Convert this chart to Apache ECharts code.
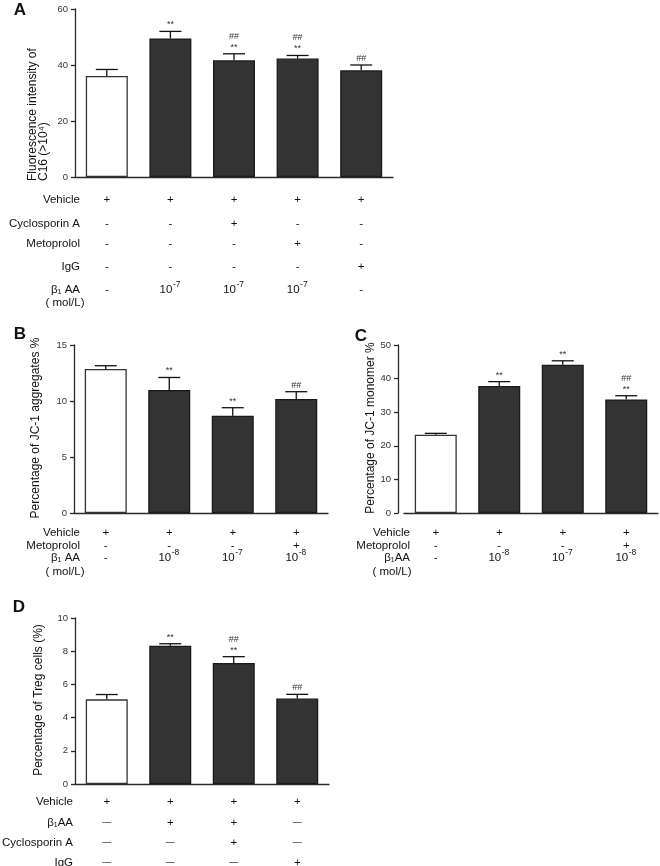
<!DOCTYPE html>
<html>
<head>
<meta charset="utf-8">
<script src="https://cdn.jsdelivr.net/npm/echarts@6/dist/echarts.min.js"></script>
<style>html,body{margin:0;padding:0;background:#fff}#c{width:660px;height:866px}</style>
</head>
<body>
<div id="c"></div>
<script>
// ---------- DATA ----------
const catsA = ['G1','G2','G3','G4','G5'];
const meanA = [36.1, 49.5, 41.7, 42.3, 38.1];
const errA  = [2.3, 2.5, 2.3, 1.1, 1.9];
const sigA  = ['', '**', '##\n**', '##\n**', '##'];
const tabA_vehicle = ['+','+','+','+','+'];
const tabA_cyclo   = ['-','-','+','-','-'];
const tabA_meto    = ['-','-','-','+','-'];
const tabA_igg     = ['-','-','-','-','+'];
const tabA_b1aa    = ['-','10^-7','10^-7','10^-7','-'];

const catsB = ['G1','G2','G3','G4'];
const meanB = [12.86, 10.98, 8.69, 10.18];
const errB  = [0.29, 1.12, 0.71, 0.65];
const sigB  = ['', '**', '**', '##'];

const catsC = ['G1','G2','G3','G4'];
const meanC = [23.3, 37.8, 44.1, 33.8];
const errC  = [0.4, 1.3, 1.2, 1.1];
const sigC  = ['', '**', '**', '##\n**'];

const tabBC_vehicle = ['+','+','+','+'];
const tabBC_meto    = ['-','-','-','+'];
const tabBC_b1aa    = ['-','10^-8','10^-7','10^-8'];

const catsD = ['G1','G2','G3','G4'];
const meanD = [5.1, 8.33, 7.29, 5.15];
const errD  = [0.29, 0.12, 0.38, 0.25];
const sigD  = ['', '**', '##\n**', '##'];
const tabD_vehicle = ['+','+','+','+'];
const tabD_b1aa    = ['—','+','+','—'];
const tabD_cyclo   = ['—','—','+','—'];
const tabD_igg     = ['—','—','—','+'];

// ---------- STYLE ----------
const FONT = 'Arial, "Liberation Sans", sans-serif';
const AX = '#2a2a2a';
const TF = 11.5; // table font size

const panels = [
  {cats: catsA, mean: meanA, err: errA, sig: sigA, grid:{left:75, top:9, width:318, height:168}, yMax:60, yInt:20, yOffset:0,
   rows:[tabA_vehicle, tabA_cyclo, tabA_meto, tabA_igg, tabA_b1aa], rowOff:[23,47,67,90,113], dashFont:TF},
  {cats: catsB, mean: meanB, err: errB, sig: sigB, grid:{left:74, top:345, width:254, height:168}, yMax:15, yInt:5, yOffset:0,
   rows:[tabBC_vehicle, tabBC_meto, tabBC_b1aa], rowOff:[20,33,45], dashFont:TF},
  {cats: catsC, mean: meanC, err: errC, sig: sigC, grid:{left:404, top:345, width:254, height:168}, yMax:50, yInt:10, yOffset:6,
   rows:[tabBC_vehicle, tabBC_meto, tabBC_b1aa], rowOff:[20,33,45], dashFont:TF},
  {cats: catsD, mean: meanD, err: errD, sig: sigD, grid:{left:75, top:618, width:254, height:166}, yMax:10, yInt:2, yOffset:0,
   rows:[tabD_vehicle, tabD_b1aa, tabD_cyclo, tabD_igg], rowOff:[18,39,59,79], dashFont:9}
];

const grids = [], xAxes = [], yAxes = [], series = [];
panels.forEach((p, k) => {
  grids.push(Object.assign({containLabel:false}, p.grid));
  xAxes.push({type:'category', gridIndex:k, data:p.cats,
    axisLine:{lineStyle:{color:AX, width:1.3}},
    axisTick:{alignWithLabel:true, length:4, lineStyle:{color:AX, width:1.3}},
    axisLabel:{show:false}, splitLine:{show:false}});
  yAxes.push({type:'value', gridIndex:k, min:0, max:p.yMax, interval:p.yInt, offset:p.yOffset,
    axisLine:{show:true, lineStyle:{color:AX, width:1.3}},
    axisTick:{show:true, length:4, lineStyle:{color:AX, width:1.3}},
    axisLabel:{fontFamily:FONT, fontSize:9.5, color:'#333', margin:7},
    splitLine:{show:false}});
  series.push({type:'bar', xAxisIndex:k, yAxisIndex:k, barWidth:42,
    data:p.mean.map((v,i)=>({value:v, itemStyle: i===0
      ? {color:'#ffffff', borderColor:'#333', borderWidth:1.3}
      : {color:'#333333', borderColor:'#1a1a1a', borderWidth:1.3}})),
    z:2});
  // error bars + significance marks
  series.push({type:'custom', xAxisIndex:k, yAxisIndex:k, z:3, clip:false,
    data:p.mean.map((v,i)=>[i, v, v + p.err[i]]),
    renderItem:(params, api)=>{
      const i = api.value(0), m = api.value(1), u = api.value(2);
      const p0 = api.coord([i, m]), p1 = api.coord([i, u]);
      const st = {stroke:'#111', lineWidth:1.3};
      return {type:'group', children:[
        {type:'line', shape:{x1:p0[0], y1:p0[1], x2:p1[0], y2:p1[1]}, style:st},
        {type:'line', shape:{x1:p1[0]-11, y1:p1[1], x2:p1[0]+11, y2:p1[1]}, style:st},
        {type:'text', x:p1[0], y:p1[1]-1, style:{text:p.sig[params.dataIndex], align:'center', verticalAlign:'bottom',
          font:'9px ' + FONT, lineHeight:11, fill:'#333'}}
      ]};
    }});
  // table under each panel
  series.push({type:'custom', xAxisIndex:k, yAxisIndex:k, z:3, clip:false,
    data:p.cats.map((c,i)=>[i, 0]),
    renderItem:(params, api)=>{
      const i = api.value(0);
      const base = api.coord([i, 0]);
      const ch = [];
      p.rows.forEach((row, r) => {
        const t = row[params.dataIndex];
        const y = base[1] + p.rowOff[r];
        if (t.indexOf('10^') === 0) {
          ch.push({type:'text', x:base[0]+2, y:y, style:{text:'10', align:'right', verticalAlign:'middle', font:TF+'px '+FONT, fill:'#111'}});
          ch.push({type:'text', x:base[0]+2.5, y:y-5, style:{text:t.slice(3), align:'left', verticalAlign:'middle', font:'8.5px '+FONT, fill:'#111'}});
        } else {
          const f = (t === '—') ? p.dashFont : TF;
          ch.push({type:'text', x:base[0], y:y, style:{text:t, align:'center', verticalAlign:'middle', font:f+'px '+FONT, fill:'#111'}});
        }
      });
      return {type:'group', children:ch};
    }});
});

function txt(x, y, text, opt) {
  return Object.assign({type:'text', x:x, y:y, silent:true,
    style:Object.assign({text:text, font:TF + 'px ' + FONT, fill:'#111', align:'right', verticalAlign:'middle'}, opt && opt.style)},
    opt && opt.el);
}
const TT = '12px ' + FONT;
const graphic = [
  // panel letters
  txt(20, 10, 'A', {style:{font:'bold 17px ' + FONT, align:'center'}}),
  txt(20, 334, 'B', {style:{font:'bold 17px ' + FONT, align:'center'}}),
  txt(361, 336, 'C', {style:{font:'bold 17px ' + FONT, align:'center'}}),
  txt(19, 607, 'D', {style:{font:'bold 17px ' + FONT, align:'center'}}),
  // axis titles
  txt(38, 181, 'Fluorescence intensity of\nC16 (>10⁴)', {style:{align:'left', lineHeight:11, font:TT}, el:{rotation:Math.PI/2}}),
  txt(36, 428, 'Percentage of JC-1 aggregates %', {style:{align:'center', font:TT}, el:{rotation:Math.PI/2}}),
  txt(371, 428, 'Percentage of JC-1 monomer %', {style:{align:'center', font:TT}, el:{rotation:Math.PI/2}}),
  txt(39, 700, 'Percentage of Treg cells (%)', {style:{align:'center', font:TT}, el:{rotation:Math.PI/2}}),
  // row headers A
  txt(80, 200, 'Vehicle'), txt(80, 224, 'Cyclosporin A'), txt(80, 244, 'Metoprolol'), txt(80, 267, 'IgG'),
  txt(80, 290, 'β₁ AA'), txt(65, 303, '( mol/L)', {style:{align:'center'}}),
  // row headers B
  txt(80, 533, 'Vehicle'), txt(80, 546, 'Metoprolol'), txt(80, 558, 'β₁ AA'), txt(65, 572, '( mol/L)', {style:{align:'center'}}),
  // row headers C
  txt(410, 533, 'Vehicle'), txt(410, 546, 'Metoprolol'), txt(410, 558, 'β₁AA'), txt(392, 572, '( mol/L)', {style:{align:'center'}}),
  // row headers D
  txt(73, 802, 'Vehicle'), txt(73, 823, 'β₁AA'), txt(73, 843, 'Cyclosporin A'), txt(73, 863, 'IgG')
];

const chart = echarts.init(document.getElementById('c'), null, {renderer:'canvas'});
chart.setOption({animation:false, backgroundColor:'#fff', grid:grids, xAxis:xAxes, yAxis:yAxes, series:series, graphic:graphic});
</script>
</body>
</html>
